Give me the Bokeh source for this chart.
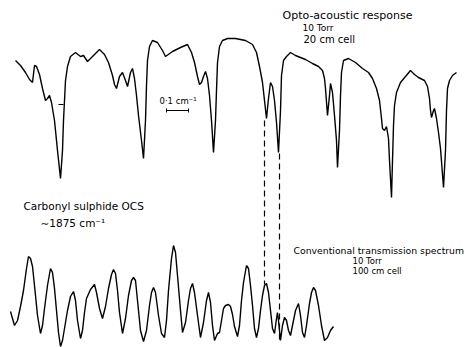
from bokeh.plotting import figure
from bokeh.models import Range1d, ColumnDataSource
from bokeh.core.properties import value
from bokeh.embed import file_html
from bokeh.resources import INLINE

# Opto-acoustic response trace (x position, signal; picture units, y grows downward)
oa_x = [15,20,25,29,32,34,36,39,42,45,47,49,51,54,57,60,62,63,64,65,67,70,75,80,83,87,92,99,104,108,112,114,116,119,122,125,127,130,132,134,136,138,141,143,145,146,147,149,152,157,162,165,172,180,187,191,194,197,199,201,203,205,207,209,211,213,215,216,217,219,222,227,235,245,252,256,259,262,264,266,268,270,272,274,276,278,280,281,283,286,290,295,305,312,318,322,324,325,327,329,330,332,334,336,337,339,340,341,343,348,355,362,368,372,376,379,381,382,384,386,388,389,391,392,393,394,396,400,405,410,414,418,424,427,429,430,431,433,434,436,438,440,443,445,446,447,449,452,456]
oa_y = [60,65,72,79,82,65,66,74,88,100,98,95,102,120,150,178,150,120,100,80,66,56,52,56,55,61,56,49,54,62,75,84,88,76,72,80,86,72,68,78,95,115,140,158,120,85,60,46,40,42,50,56,51,47,44,52,62,76,84,82,76,71,78,95,120,152,120,90,62,46,40,38,38,40,44,52,66,82,100,118,98,82,86,100,122,152,110,75,60,56,52,55,59,63,66,70,78,88,115,95,83,92,115,140,167,130,95,72,60,58,62,68,72,78,88,100,118,128,130,126,138,160,197,160,125,105,92,82,76,70,74,77,80,86,98,110,117,110,108,118,132,148,187,150,110,88,80,75,72]

# Conventional transmission spectrum trace
tr_x = [10,12,14,17,20,23,26,28,30,32,34,37,40,42,44,47,50,52,54,56,58,60,62,64,67,70,73,75,77,80,82,84,86,90,94,96,99,102,105,108,111,113,115,117,119,122,125,128,131,133,135,137,140,143,146,149,151,153,155,158,161,164,166,168,171,173,175,177,180,182,185,188,190,192,194,197,200,203,206,208,210,212,214,217,219,221,223,225,228,230,232,234,237,239,241,243,246,248,250,252,254,256,258,260,262,264,266,268,270,272,274,276,277,278,280,282,284,286,288,290,292,295,298,300,302,304,306,309,311,313,315,318,321,324,327,330,333]
tr_y = [311,318,325,320,306,290,268,256,258,266,285,315,333,325,308,285,268,272,288,310,332,346,340,328,310,296,291,300,320,338,330,312,298,289,284,292,308,318,306,288,274,269,273,290,312,333,318,295,280,277,280,300,330,341,330,305,292,287,292,315,333,337,320,290,258,245,252,275,310,332,322,300,288,283,292,315,337,322,300,292,302,325,340,333,332,320,308,305,304,306,314,326,336,325,300,282,265,268,285,305,328,337,328,310,295,285,283,292,310,328,333,318,312,320,340,325,317,320,330,335,325,310,303,315,332,337,325,303,292,287,290,305,325,340,337,330,326]

# Correspondence markers (dashed) between the two spectra
link_x = [264, 279]
link_y0 = [120, 153]
link_y1 = [284, 340]

# Annotations
labels = ["Opto-acoustic response", "10 Torr", "20 cm cell",
          "Carbonyl sulphide OCS", "\u223c1875 cm\u207b\u00b9",
          "Conventional transmission spectrum", "10 Torr", "100 cm cell",
          "0\u00b71 cm\u207b\u00b9"]
label_x = [282, 302, 303, 23, 40, 293, 352, 352, 159]
label_y = [15, 27, 39, 205, 222, 250, 260, 270, 100]
label_size = ["11px", "9px", "10px", "10.5px", "10.5px", "9.3px", "8.5px", "8.5px", "8.5px"]

# scale bar
bar_x = [166, 188]
bar_y = 110

W, H = 474, 347
p = figure(width=W, height=H, output_backend="svg", toolbar_location=None,
           x_range=Range1d(0, W), y_range=Range1d(H, 0),
           min_border=0, outline_line_color=None, background_fill_color="white")
p.axis.visible = False
p.grid.visible = False

p.line(oa_x, oa_y, line_color="black", line_width=1.4)
p.line(tr_x, tr_y, line_color="black", line_width=1.4)
p.segment(x0=link_x, y0=link_y0, x1=link_x, y1=link_y1,
          line_color="black", line_width=1.2, line_dash="6 4")

# small tick on the opto-acoustic trace
p.segment(x0=[58], y0=[104], x1=[63], y1=[104], line_color="black", line_width=1)

# scale bar with end ticks
p.segment(x0=[bar_x[0]], y0=[bar_y], x1=[bar_x[1]], y1=[bar_y], line_color="black", line_width=1.2)
p.segment(x0=bar_x, y0=[bar_y - 2, bar_y - 2], x1=bar_x, y1=[bar_y + 2, bar_y + 2],
          line_color="black", line_width=1)

src = ColumnDataSource(dict(x=label_x, y=label_y, t=labels, s=label_size))
p.text(x="x", y="y", text="t", text_font_size="s", source=src,
       text_font=value("DejaVu Sans"), text_color="black",
       text_align="left", text_baseline="middle")

open("out.html", "w").write(file_html(p, INLINE))
